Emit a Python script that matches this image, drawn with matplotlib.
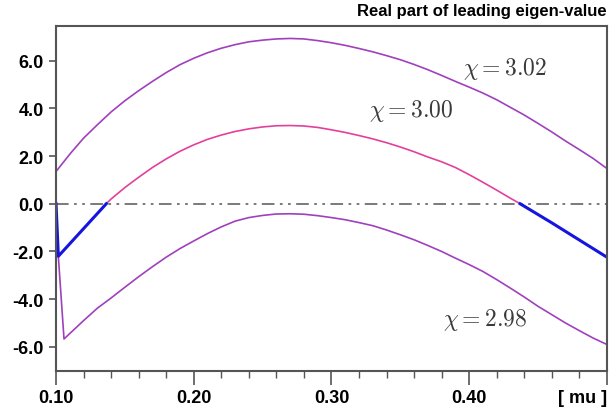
import numpy as np
import matplotlib
matplotlib.use("Agg")
import matplotlib.pyplot as plt
from matplotlib.ticker import MultipleLocator

plt.rcParams['font.family'] = ['Liberation Sans', 'DejaVu Sans']
plt.rcParams['mathtext.fontset'] = 'cm'
plt.rcParams['axes.unicode_minus'] = False

# ---- data ----
# chi = 3.02 (upper curve)
mu_hi = [0.10, 0.11, 0.12, 0.13, 0.14, 0.15, 0.16, 0.17, 0.18, 0.19, 0.20,
         0.21, 0.22, 0.23, 0.24, 0.25, 0.26, 0.27, 0.28, 0.29, 0.30,
         0.31, 0.32, 0.33, 0.34, 0.35, 0.36, 0.37, 0.38, 0.39, 0.40,
         0.41, 0.42, 0.43, 0.44, 0.45, 0.46, 0.47, 0.48, 0.49, 0.50]
re_hi = [1.35, 2.08, 2.75, 3.31, 3.85, 4.32, 4.74, 5.13, 5.50, 5.83, 6.10,
         6.33, 6.52, 6.67, 6.79, 6.86, 6.91, 6.93, 6.91, 6.84, 6.75,
         6.64, 6.51, 6.37, 6.21, 6.04, 5.84, 5.62, 5.38, 5.13, 4.89,
         4.64, 4.36, 4.04, 3.72, 3.37, 3.01, 2.63, 2.27, 1.90, 1.48]

# chi = 3.00 (middle curve), positive part
mu_mid = [0.1365, 0.14, 0.15, 0.16, 0.17, 0.18, 0.19, 0.20, 0.21, 0.22, 0.23,
          0.24, 0.25, 0.26, 0.27, 0.28, 0.29, 0.30, 0.31, 0.32, 0.33, 0.34,
          0.35, 0.36, 0.37, 0.38, 0.39, 0.40, 0.41, 0.42, 0.43, 0.437]
re_mid = [0.00, 0.20, 0.68, 1.11, 1.52, 1.88, 2.20, 2.47, 2.70, 2.88, 3.03,
          3.14, 3.22, 3.27, 3.28, 3.26, 3.20, 3.10, 2.99, 2.86, 2.72, 2.56,
          2.38, 2.18, 1.96, 1.76, 1.52, 1.22, 0.90, 0.57, 0.23, 0.00]

# chi = 3.00, negative parts (blue)
mu_neg_l = [0.1000, 0.1017, 0.1365]
re_neg_l = [0.00, -2.20, 0.00]
mu_neg_r = [0.437, 0.46, 0.48, 0.50]
re_neg_r = [0.00, -0.80, -1.52, -2.24]

# chi = 2.98 (lower curve)
mu_lo = [0.1000, 0.1058, 0.11, 0.12, 0.13, 0.14, 0.15, 0.16, 0.17, 0.18, 0.19,
         0.20, 0.21, 0.22, 0.23, 0.24, 0.25, 0.26, 0.27, 0.28, 0.29, 0.30,
         0.31, 0.32, 0.33, 0.34, 0.35, 0.36, 0.37, 0.38, 0.39, 0.40,
         0.41, 0.42, 0.43, 0.44, 0.45, 0.46, 0.47, 0.48, 0.49, 0.50]
re_lo = [-0.80, -5.67, -5.44, -4.90, -4.38, -3.95, -3.50, -3.06, -2.64, -2.24, -1.88,
         -1.56, -1.25, -0.97, -0.73, -0.58, -0.49, -0.43, -0.42, -0.44, -0.50, -0.58,
         -0.67, -0.79, -0.92, -1.10, -1.30, -1.51, -1.75, -2.00, -2.28, -2.55,
         -2.84, -3.18, -3.54, -3.91, -4.30, -4.65, -5.00, -5.32, -5.63, -5.90]

xticks = [0.10, 0.20, 0.30, 0.40, 0.50]
xticklabels = ['0.10', '0.20', '0.30', '0.40', '[ mu ]']
yticks = [-6.0, -4.0, -2.0, 0.0, 2.0, 4.0, 6.0]

purple = '#a040bd'
pink = '#e2409c'
blue = '#1515e0'

fig = plt.figure(figsize=(6.13, 4.10), dpi=100)
ax = fig.add_axes([0.0914, 0.0934, 0.8986, 0.8406])

ax.axhline(0.0, color='#707070', lw=1.3, dashes=(7, 3, 1.5, 3, 1.5, 3))

ax.plot(mu_hi, re_hi, color=purple, lw=1.2)
ax.plot(mu_mid, re_mid, color=pink, lw=1.2)
ax.plot(mu_lo, re_lo, color=purple, lw=1.2)
ax.plot(mu_neg_l, re_neg_l, color=blue, lw=2.2)
ax.plot(mu_neg_r, re_neg_r, color=blue, lw=2.2)

ax.text(0.4257, 5.70, r'$\chi = 3.02$', fontsize=17, ha='center', va='center', color='#3a3a3a')
ax.text(0.3576, 3.94, r'$\chi = 3.00$', fontsize=17, ha='center', va='center', color='#3a3a3a')
ax.text(0.4116, -4.82, r'$\chi = 2.98$', fontsize=17, ha='center', va='center', color='#3a3a3a')

ax.set_xlim(0.10, 0.50)
ax.set_ylim(-7.0, 7.45)
ax.set_xticks(xticks)
ax.set_xticklabels(xticklabels)
ax.xaxis.set_minor_locator(MultipleLocator(0.02))
ax.set_yticks(yticks)
ax.set_yticklabels(['%.1f' % v for v in yticks])

ax.tick_params(axis='both', which='major', direction='out', length=5, width=1.2,
               color='#555555', labelsize=13, pad=4)
ax.tick_params(axis='x', which='major', length=10, pad=3)
ax.tick_params(axis='x', which='minor', direction='out', length=5, width=1.0, color='#555555')
for lab in ax.get_xticklabels() + ax.get_yticklabels():
    lab.set_fontweight('bold')
ax.get_xticklabels()[-1].set_ha('right')

for sp in ax.spines.values():
    sp.set_color('#555555')
    sp.set_linewidth(1.5)

fig.text(0.990, 0.972, 'Real part of leading eigen-value', ha='right', va='center',
         fontsize=12, fontweight='bold')

fig.savefig('out.png', dpi=100)
